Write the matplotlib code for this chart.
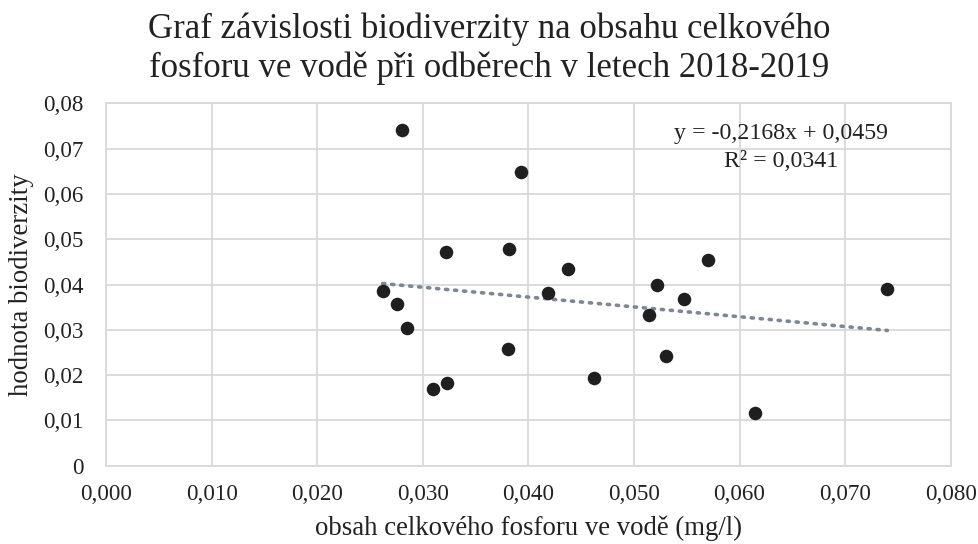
import numpy as np
import matplotlib
matplotlib.use("Agg")
import matplotlib.pyplot as plt
from matplotlib.ticker import FuncFormatter

plt.rcParams['font.family'] = ['Liberation Serif', 'DejaVu Serif']

# obsah celkoveho fosforu (mg/l) a hodnota biodiverzity
fosfor = [0.0280, 0.0393, 0.0382, 0.0322, 0.0570, 0.0438, 0.0522, 0.0740, 0.0262, 0.0419,
          0.0547, 0.0276, 0.0514, 0.0285, 0.0381, 0.0530, 0.0462, 0.0323, 0.0310, 0.0615]
biodiverzita = [0.0741, 0.0649, 0.0479, 0.0471, 0.0455, 0.0434, 0.0400, 0.0390, 0.0386, 0.0381,
                0.0368, 0.0358, 0.0333, 0.0305, 0.0257, 0.0242, 0.0194, 0.0183, 0.0169, 0.0117]

# linearni trend z grafu
slope = -0.2168
intercept = 0.0459
r2 = 0.0341

x_ticks = [0.0, 0.01, 0.02, 0.03, 0.04, 0.05, 0.06, 0.07, 0.08]
y_ticks = [0.0, 0.01, 0.02, 0.03, 0.04, 0.05, 0.06, 0.07, 0.08]

fig = plt.figure(figsize=(9.79, 5.44), dpi=100)
ax = fig.add_axes([0.1083, 0.1439, 0.8628, 0.6662])

grid_c = '#d9d9d9'
txt_c = '#222222'
ax.set_xlim(0, 0.08)
ax.set_ylim(0, 0.08)
ax.set_xticks(x_ticks)
ax.set_yticks(y_ticks)
ax.grid(True, color=grid_c, linewidth=1.3)
ax.set_axisbelow(True)
for s in ax.spines.values():
    s.set_color(grid_c)
    s.set_linewidth(1.3)
ax.tick_params(length=0, labelsize=16.6, colors=txt_c)
ax.tick_params(axis='x', pad=13)
ax.tick_params(axis='y', pad=16)
ax.xaxis.set_major_formatter(FuncFormatter(lambda v, p: f"{v:.3f}".replace('.', ',')))
ax.yaxis.set_major_formatter(FuncFormatter(lambda v, p: '0' if v == 0 else f"{v:.2f}".replace('.', ',')))

xt = np.array([min(fosfor), max(fosfor)])
ax.plot(xt, slope * xt + intercept, linestyle=(0, (0.6, 1.9)), color='#7d8793',
        linewidth=2.6, dash_capstyle='round', zorder=2)
ax.scatter(fosfor, biodiverzita, s=95, color='#1f1f1f', zorder=3, linewidths=0)

eq1 = f"y = {slope:.4f}x + {intercept:.4f}".replace('.', ',')
eq2 = f"R² = {r2:.4f}".replace('.', ',')
ax.text(0.0639, 0.0722, eq1, ha='center', va='baseline', fontsize=17.2, color=txt_c)
ax.text(0.0639, 0.0660, eq2, ha='center', va='baseline', fontsize=17.2, color=txt_c)

ax.set_xlabel('obsah celkového fosforu ve vodě (mg/l)', fontsize=19.3, color=txt_c)
ax.xaxis.set_label_coords(0.5, -0.136)
ax.set_ylabel('hodnota biodiverzity', fontsize=19.3, color=txt_c)
ax.yaxis.set_label_coords(-0.085, 0.5)

fig.text(0.5, 1 - 38 / 544, 'Graf závislosti biodiverzity na obsahu celkového',
         ha='center', va='baseline', fontsize=25, color=txt_c)
fig.text(0.5, 1 - 77 / 544, 'fosforu ve vodě při odběrech v letech 2018-2019',
         ha='center', va='baseline', fontsize=25, color=txt_c)

fig.savefig('out.png', dpi=100)
